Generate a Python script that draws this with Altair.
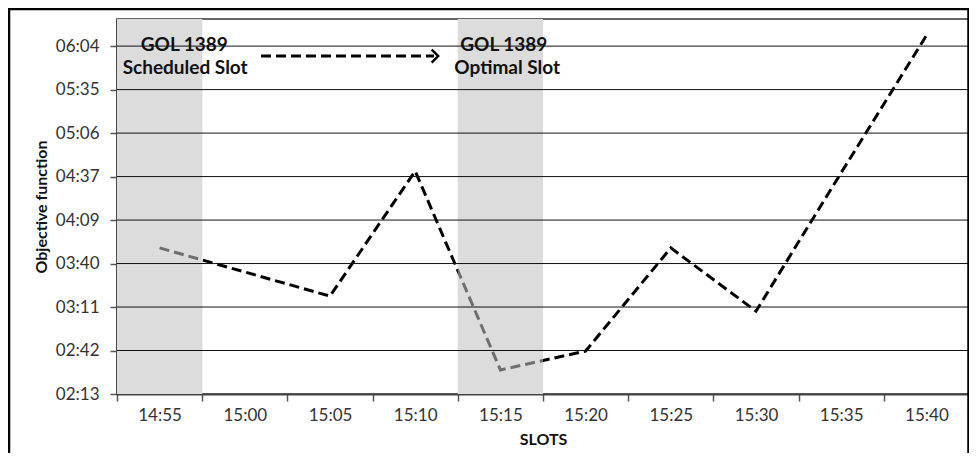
import json
import altair as alt
import pandas as pd

# ---- data ----
slots = ["14:55", "15:00", "15:05", "15:10", "15:15", "15:20", "15:25", "15:30", "15:35", "15:40"]
objective_min = [230, 214, 198, 281, 149, 161.5, 230, 188, 280, 371]   # minutes (hh:mm)

ytick_values = [133, 161.875, 190.75, 219.625, 248.5, 277.375, 306.25, 335.125, 364]
ytick_labels = ["02:13", "02:42", "03:11", "03:40", "04:09", "04:37", "05:06", "05:35", "06:04"]

shaded_slots = ["14:55", "15:15"]

ann_x = [0.29, 0.30, 4.04, 4.08]
ann_y = [364.5, 349.5, 364.5, 349.5]
ann_text = ["GOL 1389", "Scheduled Slot", "GOL 1389", "Optimal Slot"]

arrow_x = [1.19, 3.22]
arrow_y = 357.4

Y_MIN, Y_MAX = 133, 382
W, H = 852, 375

# ---- tables ----
line_df = pd.DataFrame({"i": list(range(len(slots))), "slot": slots, "v": objective_min})
band_df = pd.DataFrame({"slot": shaded_slots})
band_df["i0"] = [slots.index(s) - 0.5 for s in shaded_slots]
band_df["i1"] = [slots.index(s) + 0.5 for s in shaded_slots]
band_df["ylo"] = Y_MIN
band_df["yhi"] = Y_MAX
grid_df = pd.DataFrame({"v": ytick_values[1:]})
ann_df = pd.DataFrame({"x": ann_x, "y": ann_y, "t": ann_text})
arrow_df = pd.DataFrame({"x": [arrow_x[0]], "x2": [arrow_x[1]], "y": [arrow_y]})
head_df = pd.DataFrame({"x": [arrow_x[1] + 0.05], "y": [arrow_y]})
frame_df = pd.DataFrame({"a": [0]})

FONT = "Lato"
xticks = [k - 0.5 for k in range(len(slots) + 1)]
x_label_expr = json.dumps(slots) + "[round(datum.value + 0.5)] || ''"
y_label_expr = json.dumps(ytick_labels) + "[round((datum.value - 133) / 28.875)] || ''"

xscale = alt.Scale(domain=[-0.5, len(slots) - 0.5], nice=False, zero=False)
yscale = alt.Scale(domain=[Y_MIN, Y_MAX], nice=False, zero=False)

x_axis = alt.Axis(values=xticks, labelExpr=x_label_expr, labelOffset=W / len(slots) / 2,
                  title="SLOTS", grid=False, labelBound=False, labelFlush=False,
                  labelOverlap=False, labelFont=FONT, labelFontSize=17, labelColor="#333333",
                  labelPadding=6, tickSize=7, tickColor="#555555", tickWidth=1.5,
                  domainColor="#444444", domainWidth=2, titleFont=FONT, titleFontSize=16,
                  titleFontWeight="bold", titleColor="#111111", titlePadding=8)
y_axis = alt.Axis(values=ytick_values, labelExpr=y_label_expr, title="Objective function",
                  grid=False, labelFont=FONT, labelFontSize=17, labelColor="#333333",
                  labelPadding=11, tickSize=7, tickColor="#555555", tickWidth=1.5,
                  domainColor="#333333", domainWidth=2, titleFont=FONT, titleFontSize=16,
                  titleFontWeight="bold", titleColor="#111111", titlePadding=6,
                  labelOverlap=False)

band_under = alt.Chart(band_df).mark_rect(color="#dcdcdc").encode(
    x=alt.X("i0:Q", scale=xscale, axis=x_axis), x2="i1:Q",
    y=alt.Y("ylo:Q", scale=yscale, axis=y_axis), y2="yhi:Q")

line = alt.Chart(line_df).mark_line(color="#000000", strokeWidth=3, strokeDash=[10, 5]).encode(
    x=alt.X("i:Q", scale=xscale), y=alt.Y("v:Q", scale=yscale))

band_over = alt.Chart(band_df).mark_rect(color="#dcdcdc", opacity=0.5).encode(
    x=alt.X("i0:Q", scale=xscale), x2="i1:Q",
    y=alt.Y("ylo:Q", scale=yscale), y2="yhi:Q")

grid = alt.Chart(grid_df).mark_rule(color="#111111", strokeWidth=1).encode(
    y=alt.Y("v:Q", scale=yscale))

arrow = alt.Chart(arrow_df).mark_rule(color="#000000", strokeWidth=3, strokeDash=[10, 5]).encode(
    x=alt.X("x:Q", scale=xscale), x2="x2:Q", y=alt.Y("y:Q", scale=yscale))

head = alt.Chart(head_df).mark_point(shape="M-1,-1L0,0L-1,1", filled=False, stroke="#000000",
                                     strokeWidth=2.5, size=170, opacity=1).encode(
    x=alt.X("x:Q", scale=xscale), y=alt.Y("y:Q", scale=yscale))

texts = alt.Chart(ann_df).mark_text(font=FONT, fontSize=19, fontWeight="bold", color="#111111",
                                    align="center", baseline="middle").encode(
    x=alt.X("x:Q", scale=xscale), y=alt.Y("y:Q", scale=yscale), text="t:N")

frame = alt.Chart(frame_df).mark_rect(fill=None, stroke="#000000", strokeWidth=2.5, clip=False).encode(
    x=alt.value(-108), x2=alt.value(W - 0.5), y=alt.value(-10), y2=alt.value(520))

chart = alt.layer(band_under, line, band_over, grid, arrow, head, texts, frame).properties(
    width=W, height=H,
    padding={"left": 109, "top": 11, "right": 0, "bottom": 59},
    autosize=alt.AutoSizeParams(type="none"),
).configure_view(stroke="#333333", strokeWidth=1.5)

chart.save("out.html", embed_options={"renderer": "svg", "actions": False})
